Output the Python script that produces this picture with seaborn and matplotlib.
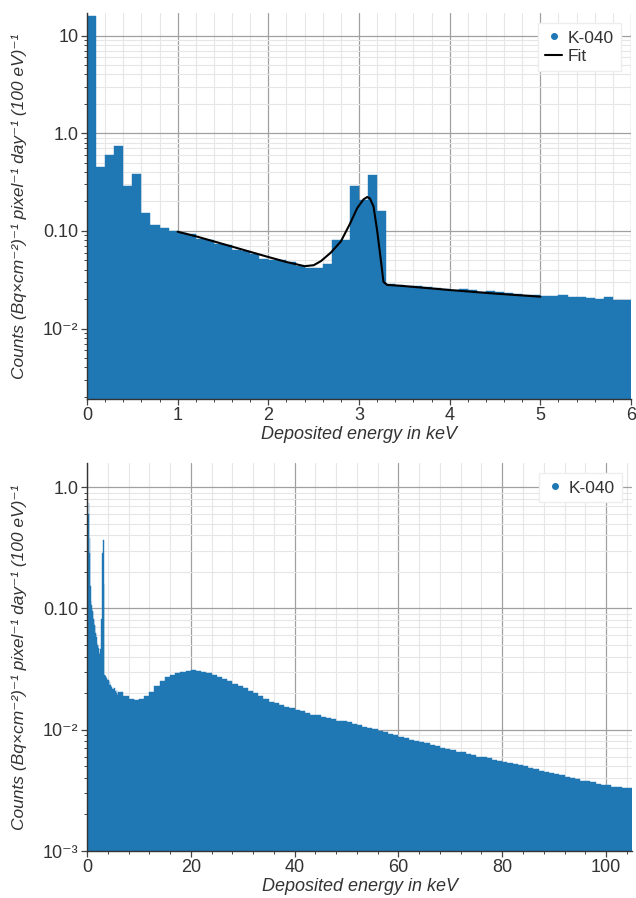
import numpy as np
import pandas as pd
import seaborn as sb
import matplotlib.pyplot as plt
from matplotlib.lines import Line2D
from matplotlib.ticker import FixedLocator, FixedFormatter, MultipleLocator, LogLocator, NullFormatter

# K-040 spectrum, 100 eV bins from 0 to 6 keV
low_bin_width = 0.1
low_counts = [
    15.8, 0.446, 0.60, 0.737, 0.288, 0.381, 0.154, 0.114, 0.107, 0.100,
    0.096, 0.093, 0.082, 0.080, 0.073, 0.071, 0.063, 0.062, 0.058, 0.052,
    0.050, 0.050, 0.0475, 0.044, 0.042, 0.042, 0.046, 0.081, 0.081, 0.285,
    0.207, 0.369, 0.158, 0.0285, 0.028, 0.0275, 0.027, 0.0265, 0.026, 0.0255,
    0.025, 0.0255, 0.025, 0.0235, 0.0245, 0.0235, 0.023, 0.0225, 0.0222, 0.0218,
    0.0215, 0.0215, 0.022, 0.0208, 0.021, 0.0205, 0.0202, 0.0212, 0.0195, 0.0196,
]

# fit curve (1 - 5 keV)
fit_x = [1.0, 1.2, 1.4, 1.6, 1.8, 2.0, 2.2, 2.4, 2.5, 2.58, 2.69, 2.8, 2.9, 2.98,
         3.05, 3.09, 3.12, 3.16, 3.2, 3.24, 3.27, 3.31, 3.5, 4.0, 4.5, 5.0]
fit_y = [0.098, 0.088, 0.078, 0.069, 0.061, 0.054, 0.048, 0.0435, 0.0445, 0.049, 0.060, 0.078, 0.118, 0.171,
         0.21, 0.222, 0.215, 0.178, 0.101, 0.051, 0.030, 0.028, 0.0272, 0.0248, 0.0228, 0.0212]

# wide spectrum above 6 keV, summarised in 1 keV steps
high_bin_width = 1.0
high_start = 6.0
high_counts = [
    0.0205, 0.0188, 0.0180, 0.0177, 0.0180, 0.0188, 0.0205, 0.0228, 0.0252, 0.0270,
    0.0282, 0.0291, 0.0298, 0.0305, 0.0308, 0.0306, 0.0300, 0.0292, 0.0282, 0.0272,
    0.0262, 0.0252, 0.0240, 0.0230, 0.0220, 0.0210, 0.0200, 0.0190, 0.0180, 0.0170,
    0.0165, 0.0160, 0.0155, 0.0150, 0.0146, 0.0142, 0.0137, 0.0133, 0.0131, 0.0128,
    0.0125, 0.0122, 0.0119, 0.0117, 0.0115, 0.0112, 0.0109, 0.0106, 0.0104, 0.0101,
    0.0098, 0.0095, 0.0093, 0.0090, 0.0087, 0.0085, 0.0083, 0.0081, 0.0079, 0.0077,
    0.0075, 0.0073, 0.0071, 0.0069, 0.0068, 0.0066, 0.0065, 0.0063, 0.0062, 0.0060,
    0.0059, 0.0058, 0.0056, 0.0055, 0.0054, 0.0053, 0.0052, 0.0051, 0.0050, 0.0048,
    0.0047, 0.0046, 0.0045, 0.0044, 0.0043, 0.0042, 0.0041, 0.0040, 0.0039, 0.0038,
    0.0038, 0.0037, 0.0036, 0.0035, 0.0035, 0.0034, 0.0034, 0.0033, 0.0033,
]

top_yticks = [10, 1.0, 0.1, 0.01]
top_ylabels = ["10", "1.0", "0.10", "10⁻²"]
bot_yticks = [1.0, 0.1, 0.01, 0.001]
bot_ylabels = ["1.0", "0.10", "10⁻²", "10⁻³"]

blue = "#1f77b4"
ylab = "Counts (Bq×cm⁻²)⁻¹ pixel⁻¹ day⁻¹ (100 eV)⁻¹"
xlab = "Deposited energy in keV"

sb.set_style("ticks")
plt.rcParams["font.family"] = ["Liberation Sans", "DejaVu Sans"]
plt.rcParams["text.color"] = "#333333"
plt.rcParams["axes.labelcolor"] = "#333333"
plt.rcParams["xtick.color"] = "#333333"
plt.rcParams["ytick.color"] = "#333333"

# bin edges / centres
low_edges = np.arange(len(low_counts) + 1) * low_bin_width
low_centres = low_edges[:-1] + low_bin_width / 2
high_edges = high_start + np.arange(len(high_counts) + 1) * high_bin_width
high_centres = high_edges[:-1] + high_bin_width / 2

top_df = pd.DataFrame({"energy": low_centres, "counts": low_counts})
# bottom panel skips the first bin, as in the original
bot_df = pd.DataFrame({
    "energy": np.concatenate([low_centres[1:], high_centres]),
    "counts": np.concatenate([low_counts[1:], high_counts]),
})
bot_edges = np.concatenate([low_edges[1:], high_edges[1:]])

fig = plt.figure(figsize=(6.36, 8.98), dpi=100)
ax1 = fig.add_axes([87 / 636, 1 - 399 / 898, 544 / 636, 386 / 898])
ax2 = fig.add_axes([87 / 636, 1 - 851 / 898, 545 / 636, 388 / 898])


def style_axis(ax, yticks, ylabels):
    ax.set_yscale("log")
    ax.yaxis.set_major_locator(FixedLocator(yticks))
    ax.yaxis.set_major_formatter(FixedFormatter(ylabels))
    ax.yaxis.set_minor_locator(LogLocator(base=10, subs=np.arange(2, 10)))
    ax.yaxis.set_minor_formatter(NullFormatter())
    ax.grid(which="major", color="#a0a0a0", lw=0.9)
    ax.grid(which="minor", color="#e6e6e6", lw=0.8)
    ax.set_axisbelow(True)
    ax.tick_params(which="major", labelsize=13, length=4, width=0.9, color="#444444", pad=2)
    ax.tick_params(which="minor", length=2.5, width=0.7, color="#444444")
    for s in ["top", "right"]:
        ax.spines[s].set_visible(False)
    for s in ["left", "bottom"]:
        ax.spines[s].set_color("#333333")
        ax.spines[s].set_linewidth(1.0)
    ax.set_ylabel(ylab, fontsize=12.5, style="italic")
    ax.set_xlabel(xlab, fontsize=13, style="italic", labelpad=1)


# top panel
ax1.set_yscale("log")
sb.histplot(data=top_df, x="energy", weights="counts", bins=list(low_edges), element="bars",
            color=blue, alpha=1, edgecolor=blue, linewidth=0.3, ax=ax1)
sb.lineplot(x=fit_x, y=fit_y, color="black", lw=1.5, ax=ax1)
style_axis(ax1, top_yticks, top_ylabels)
ax1.set_xlim(0, 6)
ax1.set_ylim(0.0019, 17)
ax1.xaxis.set_major_locator(MultipleLocator(1))
ax1.xaxis.set_minor_locator(MultipleLocator(0.2))
h1 = [Line2D([], [], marker="o", ls="none", color=blue, markersize=4),
      Line2D([], [], color="black", lw=1.5)]
ax1.legend(h1, ["K-040", "Fit"], loc="upper right", fontsize=12.5, frameon=True,
           framealpha=1, edgecolor="#eeeeee", fancybox=False, handlelength=1.0,
           handletextpad=0.3, borderaxespad=0.6, labelspacing=0.2)

# bottom panel
ax2.set_yscale("log")
sb.histplot(data=bot_df, x="energy", weights="counts", bins=list(bot_edges), element="bars",
            color=blue, alpha=1, edgecolor=blue, linewidth=0.3, ax=ax2)
style_axis(ax2, bot_yticks, bot_ylabels)
ax2.set_xlim(0, 105)
ax2.set_ylim(0.001, 1.58)
ax2.xaxis.set_major_locator(MultipleLocator(20))
ax2.xaxis.set_minor_locator(MultipleLocator(4))
h2 = [Line2D([], [], marker="o", ls="none", color=blue, markersize=4)]
ax2.legend(h2, ["K-040"], loc="upper right", fontsize=12.5, frameon=True,
           framealpha=1, edgecolor="#eeeeee", fancybox=False, handlelength=1.0,
           handletextpad=0.3, borderaxespad=0.6)

ax1.yaxis.set_label_coords(-0.11, 0.5)
ax2.yaxis.set_label_coords(-0.11, 0.5)

plt.savefig("out.png", dpi=100)
